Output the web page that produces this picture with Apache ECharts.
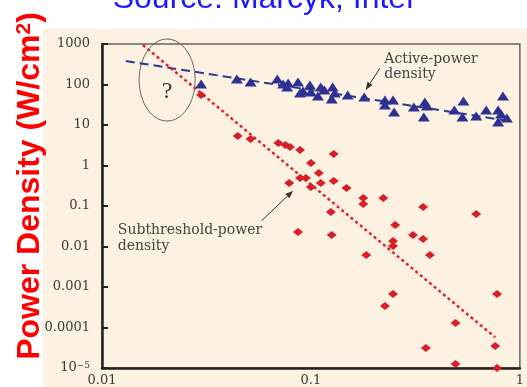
<!DOCTYPE html>
<html>
<head>
<meta charset="utf-8">
<script src="https://cdn.jsdelivr.net/npm/echarts@6/dist/echarts.min.js"></script>
<style>
  html, body { margin: 0; padding: 0; background: #ffffff; }
  #chart { width: 527px; height: 387px; }
</style>
</head>
<body>
<div id="chart"></div>
<script>
// Feature size (um) vs. power density (W/cm^2), log-log.
const activeX = [0.0298, 0.0442, 0.0514, 0.0690, 0.0736, 0.0778, 0.0867, 0.0769, 0.0887, 0.0916,
                 0.0989, 0.100, 0.108, 0.1114, 0.116, 0.127, 0.1257, 0.130, 0.150, 0.180,
                 0.226, 0.247, 0.226, 0.250, 0.311, 0.351, 0.359, 0.347, 0.486, 0.537,
                 0.531, 0.618, 0.690, 0.830, 0.787, 0.787, 0.867, 0.813];
const activeY = [103, 137, 115, 137, 103, 109, 115, 86.7, 61.7, 69.2,
                 97.2, 65.3, 52, 86.7, 73.1, 86.7, 43.9, 61.7, 55.1, 49.1,
                 41.4, 41.4, 31.2, 20.9, 27.8, 37.0, 29.4, 15.8, 23.4, 39.2,
                 15.8, 16.7, 23.4, 52, 23.4, 11.9, 14.9, 18.7];

const subX = [0.0298, 0.0446, 0.0514, 0.0698, 0.0754, 0.0794, 0.0887, 0.1285, 0.100, 0.109,
              0.0787, 0.0887, 0.0946, 0.1114, 0.1285, 0.100, 0.148, 0.178, 0.178, 0.222,
              0.344, 0.618, 0.1245, 0.0867, 0.1257, 0.253, 0.308, 0.344, 0.247, 0.247,
              0.184, 0.371, 0.247, 0.778, 0.226, 0.492, 0.762, 0.355, 0.492, 0.778];
const subY = [55.1, 5.35, 4.51, 3.60, 3.21, 2.86, 2.42, 1.92, 1.15, 0.653,
              0.370, 0.491, 0.491, 0.370, 0.414, 0.294, 0.278, 0.158, 0.112, 0.158,
              0.0944, 0.0634, 0.0711, 0.0228, 0.0192, 0.0340, 0.0192, 0.0153, 0.0137, 0.0103,
              0.00617, 0.00617, 0.000671, 0.000671, 0.000340, 0.000129, 3.49e-5, 3.12e-5, 1.26e-5, 1.0e-5];

// Fitted trends (end points)
const activeTrendX = [0.0130, 0.887];
const activeTrendY = [380, 12.6];
const subTrendX = [0.0157, 0.762];
const subTrendY = [944, 5.73e-5];

// Axis tick labels, one per decade
const xTickLabels = ['0.01', '0.1', '1'];
const yTickLabels = ['{b|10}{s|\u22125}', '0.0001', '0.001', '0.01', '0.1', '1', '10', '100', '1000'];

const titleText = 'Source: Marcyk, Intel';
const yTitleText = 'Power Density (W/cm{sup|2})';
const activeNote = 'Active-power\ndensity';
const subNote = 'Subthreshold-power\ndensity';
const askMark = '?';

const zip = (xs, ys) => xs.map((x, i) => [x, ys[i]]);

const serif = '"DejaVu Serif", "Liberation Serif", serif';
const labelColor = '#3a3a3a';

const chart = echarts.init(document.getElementById('chart'), null, { renderer: 'canvas' });

chart.setOption({
  animation: false,
  backgroundColor: '#ffffff',
  grid: {
    left: 102, top: 44, right: 4, bottom: 19,
    show: true, borderColor: '#666', borderWidth: 1.5, backgroundColor: 'transparent'
  },
  xAxis: {
    type: 'log', logBase: 10, min: 0.01, max: 1, splitNumber: 2,
    axisLine: { show: true, lineStyle: { color: '#222', width: 2.5 } },
    axisTick: { show: false },
    splitLine: { show: false },
    axisLabel: {
      margin: 6, color: labelColor, fontFamily: serif, fontSize: 13,
      showMinLabel: true, showMaxLabel: true,
      formatter: v => xTickLabels[Math.round(Math.log10(v)) + 2]
    }
  },
  yAxis: {
    type: 'log', logBase: 10, min: 1e-5, max: 1000, splitNumber: 8,
    axisLine: { show: true, lineStyle: { color: '#222', width: 2.5 } },
    axisTick: { show: true, inside: true, length: 6, lineStyle: { color: '#222', width: 2 } },
    splitLine: { show: false },
    axisLabel: {
      margin: 12, color: labelColor, fontFamily: serif, fontSize: 13,
      showMinLabel: true, showMaxLabel: true,
      formatter: v => yTickLabels[Math.round(Math.log10(v)) + 5],
      rich: {
        b: { fontFamily: serif, fontSize: 13, color: labelColor, verticalAlign: 'bottom' },
        s: { fontFamily: serif, fontSize: 9, color: labelColor, verticalAlign: 'top' }
      }
    }
  },
  series: [
    {
      type: 'line', data: zip(activeTrendX, activeTrendY), symbol: 'none', z: 1,
      lineStyle: { color: '#2b3990', width: 2, type: [9, 5] }
    },
    {
      type: 'line', data: zip(subTrendX, subTrendY), symbol: 'none', z: 1,
      lineStyle: { color: '#e0252b', width: 2.5, type: [3, 3] }
    },
    {
      type: 'scatter', data: zip(activeX, activeY), symbol: 'triangle', symbolSize: [12, 9], z: 3,
      itemStyle: { color: '#2e3192', opacity: 1 }
    },
    {
      type: 'scatter', data: zip(subX, subY), symbol: 'diamond', symbolSize: [10, 8], z: 3,
      itemStyle: { color: '#d71f26', opacity: 1 }
    }
  ]
});

// Annotations are anchored in data space and converted to pixels.
const activeNoteAt = [0.2245, 634];
const activeArrow = [[0.2138, 251], [0.1828, 73.1]];
const subNoteAt = [0.01191, 0.0403];
const subArrow = [[0.0581, 0.0434], [0.0822, 0.239]];
const askAt = [0.0205, 129];
const askMarkAt = [0.0205, 66.4];

const px = p => chart.convertToPixel({ gridIndex: 0 }, p);

function arrow(from, to) {
  const a = px(from), b = px(to);
  const dx = b[0] - a[0], dy = b[1] - a[1];
  const len = Math.hypot(dx, dy), ux = dx / len, uy = dy / len;
  const hl = 8, hw = 3;
  const bx = b[0] - ux * hl, by = b[1] - uy * hl;
  return [
    { type: 'line', shape: { x1: a[0], y1: a[1], x2: bx, y2: by },
      style: { stroke: '#333', lineWidth: 1 }, silent: true },
    { type: 'polygon', shape: { points: [b, [bx - uy * hw, by + ux * hw], [bx + uy * hw, by - ux * hw]] },
      style: { fill: '#333' }, silent: true }
  ];
}

const ask = px(askAt), askM = px(askMarkAt), an = px(activeNoteAt), sn = px(subNoteAt);

chart.setOption({
  graphic: [
    { type: 'rect', z: -100, silent: true, shape: { x: 43, y: 29, width: 484, height: 358 },
      style: { fill: '#fdf2e2' } },
    { type: 'text', x: 263, y: -1, silent: true,
      style: { text: titleText, font: 'normal 32px "Liberation Sans", Arial, sans-serif',
               fill: '#1a1aff', align: 'center', verticalAlign: 'middle' } },
    { type: 'text', x: 30, y: 186, rotation: Math.PI / 2, silent: true,
      style: { text: yTitleText, font: 'bold 32px "Liberation Sans", Arial, sans-serif',
               fill: '#ff0000', align: 'center', verticalAlign: 'middle',
               rich: { sup: { font: 'bold 21px "Liberation Sans", Arial, sans-serif',
                              fill: '#ff0000', verticalAlign: 'top' } } } },
    { type: 'ellipse', silent: true, shape: { cx: ask[0], cy: ask[1], rx: 28, ry: 41 },
      style: { fill: 'none', stroke: '#666', lineWidth: 1 } },
    { type: 'text', x: askM[0], y: askM[1], silent: true,
      style: { text: askMark, font: 'normal 24px "Liberation Serif", serif', fill: '#333',
               align: 'center', verticalAlign: 'middle' } },
    { type: 'text', x: an[0], y: an[1], silent: true,
      style: { text: activeNote, font: 'normal 14px ' + serif, fill: '#444',
               lineHeight: 15, align: 'left', verticalAlign: 'top' } },
    { type: 'text', x: sn[0], y: sn[1], silent: true,
      style: { text: subNote, font: 'normal 14px ' + serif, fill: '#444',
               lineHeight: 16, align: 'left', verticalAlign: 'top' } },
    ...arrow(activeArrow[0], activeArrow[1]),
    ...arrow(subArrow[0], subArrow[1])
  ]
});
</script>
</body>
</html>
